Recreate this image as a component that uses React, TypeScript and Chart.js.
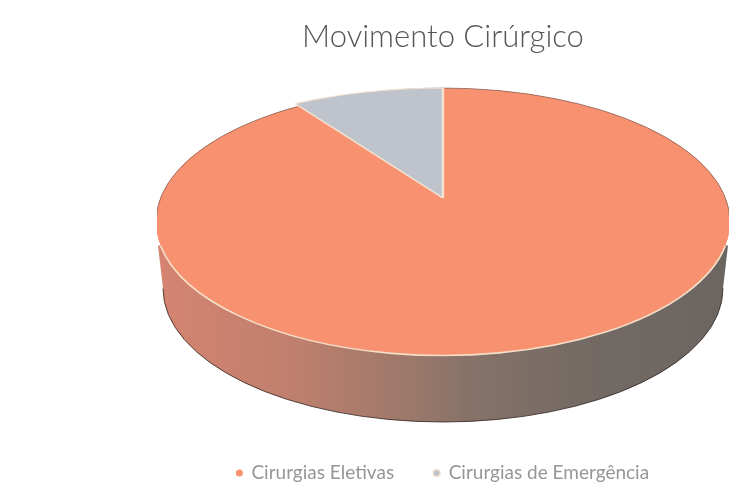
import React, { useEffect, useRef } from "react";
import { Chart, registerables } from "chart.js";

Chart.register(...registerables);

const categories = ["Cirurgias Eletivas", "Cirurgias de Emergência"];
const values = [91.4, 8.6];
const sliceColors = ["#F8916F", "#BFC3CC"];
const chartTitle = "Movimento Cirúrgico";

// Projection of the flat pie onto the tilted disc, relative to the canvas.
const CANVAS_LEFT = 157;
const CX = 286;
const TOP_CY = 221.5;
const RX = 287;
const RY = 133.5;
const APEX_CY = 198;
const APEX_RY = 110;
const WALL_DROP = 67;
const WALL_RX = 280;
const LEGEND_ANCHOR_Y = 458;

const tiltedPie = {
  id: "tiltedPie",
  beforeDraw(chart: any) {
    const legend = chart.legend;
    const h = legend.height;
    legend.top = LEGEND_ANCHOR_Y - h / 2;
    legend.bottom = legend.top + h;
  },
  beforeDatasetsDraw(chart: any) {
    const ctx: CanvasRenderingContext2D = chart.ctx;
    const arcs = chart.getDatasetMeta(0).data;
    const [main, minor] = arcs;
    const r = main.outerRadius;

    // side wall
    const wall = ctx.createLinearGradient(CX - RX, 0, CX + RX, 0);
    wall.addColorStop(0, "#D58470");
    wall.addColorStop(0.25, "#BE7F6E");
    wall.addColorStop(0.45, "#9A786A");
    wall.addColorStop(0.55, "#867268");
    wall.addColorStop(0.75, "#736A64");
    wall.addColorStop(1, "#6B6561");
    ctx.save();
    ctx.beginPath();
    ctx.moveTo(CX - RX + 2, TOP_CY + 24);
    ctx.lineTo(CX - WALL_RX, TOP_CY + WALL_DROP);
    ctx.ellipse(CX, TOP_CY + WALL_DROP, WALL_RX, RY, 0, Math.PI, 0, true);
    ctx.lineTo(CX + RX - 2, TOP_CY + 24);
    ctx.closePath();
    ctx.fillStyle = wall;
    ctx.fill();
    ctx.strokeStyle = "rgba(50,35,30,0.8)";
    ctx.lineWidth = 1;
    ctx.beginPath();
    ctx.ellipse(CX, TOP_CY + WALL_DROP, WALL_RX, RY, 0, Math.PI, 0, true);
    ctx.stroke();

    // top surface
    ctx.beginPath();
    ctx.ellipse(CX, TOP_CY, RX, RY, 0, 0, Math.PI * 2);
    ctx.fillStyle = main.options.backgroundColor;
    ctx.fill();
    ctx.restore();

    ctx.save();
    ctx.translate(CX, TOP_CY);
    ctx.scale(RX / r, RY / r);
    ctx.translate(-main.x, -main.y);
    main.draw(ctx);
    ctx.restore();

    // rim
    ctx.save();
    ctx.beginPath();
    ctx.ellipse(CX, TOP_CY, RX, RY, 0, Math.PI, 0);
    ctx.strokeStyle = "rgba(90,75,75,0.55)";
    ctx.lineWidth = 1;
    ctx.stroke();
    ctx.beginPath();
    ctx.ellipse(CX, TOP_CY + 0.5, RX, RY, 0, 0.18, Math.PI - 0.18);
    ctx.strokeStyle = "#F6DFC8";
    ctx.lineWidth = 1.6;
    ctx.stroke();
    ctx.restore();

    ctx.save();
    ctx.translate(CX, APEX_CY);
    ctx.scale(RX / r, APEX_RY / r);
    ctx.translate(-minor.x, -minor.y);
    minor.draw(ctx);
    ctx.restore();
    return false;
  },
};

export default function App() {
  const ref = useRef<HTMLCanvasElement>(null);
  useEffect(() => {
    const context: any = ref.current!.getContext("2d");
    context.letterSpacing = "0.3px";
    const chart = new Chart(ref.current!, {
      type: "pie",
      data: {
        labels: categories,
        datasets: [
          {
            data: values,
            backgroundColor: sliceColors,
            borderColor: ["rgba(0,0,0,0)", "#F4E3D2"],
            borderWidth: [0, 1.4],
          },
        ],
      },
      options: {
        responsive: false,
        animation: false,
        layout: { padding: { top: 18, bottom: 0 } },
        plugins: {
          title: {
            display: true,
            text: chartTitle,
            color: "#555555",
            font: { family: "Lato", size: 31, weight: 300 },
            padding: { top: 0, bottom: 10 },
          },
          legend: {
            position: "bottom",
            labels: {
              usePointStyle: true,
              pointStyle: "circle",
              boxWidth: 5,
              boxHeight: 5,
              padding: 40,
              color: "#969696",
              font: { family: "Lato", size: 19 },
            },
          },
          tooltip: { enabled: false },
        },
      },
      plugins: [tiltedPie],
    } as any);
    return () => chart.destroy();
  }, []);
  return (
    <canvas
      ref={ref}
      width={572}
      height={483}
      style={{
        position: "absolute",
        left: CANVAS_LEFT,
        top: 0,
        filter: "blur(0.6px)",
      }}
    />
  );
}
